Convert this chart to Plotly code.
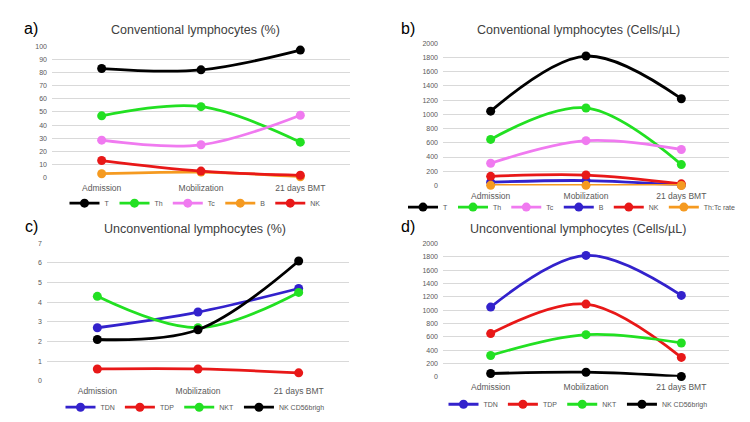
import plotly.graph_objects as go

categories = ["Admission", "Mobilization", "21 days BMT"]

# Panel a: Conventional lymphocytes (%)
a_names = ["T", "Th", "Tc", "B", "NK"]
a_T = [83, 82, 97]
a_Th = [47, 54, 27]
a_Tc = [28.5, 25, 47.5]
a_B = [3, 4.2, 0.7]
a_NK = [13, 5, 1.8]

# Panel b: Conventional lymphocytes (Cells/µL)
b_names = ["T", "Th", "Tc", "B", "NK", "Th:Tc rate"]
b_T = [1045, 1820, 1220]
b_Th = [648, 1090, 294]
b_Tc = [313, 630, 506]
b_B = [46, 69, 5]
b_NK = [129, 147, 23]
b_rate = [2.1, 1.7, 0.6]

# Panel c: Unconventional lymphocytes (%)
c_names = ["TDN", "TDP", "NKT", "NK CD56brigh"]
c_TDN = [2.7, 3.5, 4.7]
c_TDP = [0.6, 0.6, 0.4]
c_NKT = [4.3, 2.7, 4.5]
c_NK56 = [2.1, 2.6, 6.1]

# Panel d: Unconventional lymphocytes (Cells/µL)
d_names = ["TDN", "TDP", "NKT", "NK CD56brigh"]
d_TDN = [1045, 1820, 1220]
d_TDP = [648, 1090, 291]
d_NKT = [320, 632, 507]
d_NK56 = [49, 69, 5]

BLACK = "#000000"
GREEN = "#22e022"
VIOLET = "#f07af0"
ORANGE = "#f59a20"
RED = "#e81818"
BLUE = "#3322cc"

W, H = 750, 422
fig = go.Figure()

def add(series, names, colors, xa, ya, legend):
    for vals, name, col in zip(series, names, colors):
        fig.add_trace(go.Scatter(
            x=categories, y=vals, name=name, mode="lines+markers",
            line=dict(color=col, width=2.8, shape="spline", smoothing=1),
            marker=dict(color=col, size=9),
            xaxis=xa, yaxis=ya, legend=legend, cliponaxis=False,
            hoverinfo="skip"))

add([a_T, a_Th, a_Tc, a_B, a_NK], a_names, [BLACK, GREEN, VIOLET, ORANGE, RED], "x", "y", "legend")
add([b_T, b_Th, b_Tc, b_B, b_NK, b_rate], b_names, [BLACK, GREEN, VIOLET, BLUE, RED, ORANGE], "x2", "y2", "legend2")
add([c_TDN, c_TDP, c_NKT, c_NK56], c_names, [BLUE, RED, GREEN, BLACK], "x3", "y3", "legend3")
add([d_TDN, d_TDP, d_NKT, d_NK56], d_names, [BLUE, RED, GREEN, BLACK], "x4", "y4", "legend4")

def fx(px):
    return px / W

def fy(py):
    return 1 - py / H

tickfont = dict(family="Liberation Sans, Arial", size=7, color="#595959")
catfont = dict(family="Liberation Sans, Arial", size=8.5, color="#595959")

def xaxis(x0, x1, anchor):
    return dict(domain=[fx(x0), fx(x1)], anchor=anchor, type="category",
                range=[-0.5, 2.5], showgrid=False, zeroline=False, showline=False,
                tickfont=catfont, ticks="", ticklabelstandoff=4)

def yaxis(y0, y1, rng, dtick, anchor):
    return dict(domain=[fy(y0), fy(y1)], anchor=anchor, range=rng, dtick=dtick,
                showgrid=True, gridcolor="#d9d9d9", gridwidth=1, zeroline=False,
                showline=False, tickfont=tickfont, ticks="", ticklabelstandoff=4)

layout = dict(
    width=W, height=H, margin=dict(l=0, r=0, t=0, b=0),
    paper_bgcolor="white", plot_bgcolor="white", showlegend=True,
    xaxis=xaxis(52, 350, "y"), yaxis=yaxis(177, 43, [0, 100], 10, "x"),
    xaxis2=xaxis(443, 729, "y2"), yaxis2=yaxis(185, 40, [0, 2000], 200, "x2"),
    xaxis3=xaxis(47, 349, "y3"), yaxis3=yaxis(384, 244, [0, 7], 1, "x3"),
    xaxis4=xaxis(443, 729, "y4"), yaxis4=yaxis(380, 244, [0, 2000], 200, "x4"),
)

legfont = dict(family="Liberation Sans, Arial", size=7, color="#595959")

def leg(cx, cy):
    return dict(orientation="h", x=fx(cx), y=fy(cy), xanchor="center", yanchor="middle",
                font=legfont, itemwidth=30, bgcolor="rgba(0,0,0,0)", tracegroupgap=0)

layout["legend"] = leg(195, 203)
layout["legend2"] = leg(572, 207)
layout["legend3"] = leg(195, 411)
layout["legend4"] = leg(578, 408)

titlefont = dict(family="Liberation Sans, Arial", size=12.5, color="#404040")
labfont = dict(family="Liberation Sans, Arial", size=16, color="#000000")
anns = []
for txt, cx, cy in [("Conventional lymphocytes (%)", 195, 27),
                    ("Conventional lymphocytes (Cells/µL)", 578, 27),
                    ("Unconventional lymphocytes (%)", 195, 229),
                    ("Unconventional lymphocytes (Cells/µL)", 578, 229)]:
    anns.append(dict(text=txt, x=fx(cx), y=fy(cy), xref="paper", yref="paper",
                     xanchor="center", yanchor="middle", showarrow=False, font=titlefont))
for txt, cx, cy in [("a)", 31, 25), ("b)", 408, 25), ("c)", 31, 227), ("d)", 408, 227)]:
    anns.append(dict(text=txt, x=fx(cx), y=fy(cy), xref="paper", yref="paper",
                     xanchor="center", yanchor="middle", showarrow=False, font=labfont))
layout["annotations"] = anns

fig.update_layout(**layout)
fig.write_html("out.html")
